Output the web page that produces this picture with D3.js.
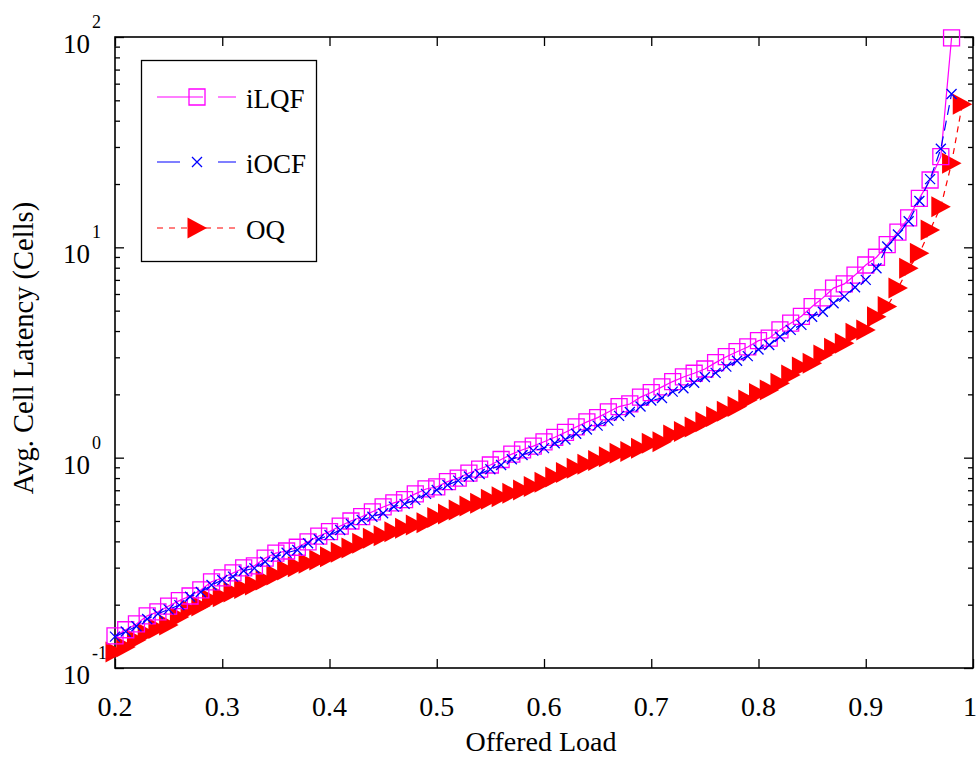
<!DOCTYPE html>
<html lang="en">
<head>
<meta charset="utf-8">
<title>Avg. Cell Latency vs Offered Load</title>
<script src="https://d3js.org/d3.v7.min.js"></script>
<style>
  body { margin: 0; background: #fff; }
  text { font-family: "Liberation Serif", "Times New Roman", serif; fill: #000; }
</style>
</head>
<body>
<script>

// offered load for every simulated point
var load = [0.20,0.21,0.22,0.23,0.24,0.25,0.26,0.27,0.28,0.29,
            0.30,0.31,0.32,0.33,0.34,0.35,0.36,0.37,0.38,0.39,
            0.40,0.41,0.42,0.43,0.44,0.45,0.46,0.47,0.48,0.49,
            0.50,0.51,0.52,0.53,0.54,0.55,0.56,0.57,0.58,0.59,
            0.60,0.61,0.62,0.63,0.64,0.65,0.66,0.67,0.68,0.69,
            0.70,0.71,0.72,0.73,0.74,0.75,0.76,0.77,0.78,0.79,
            0.80,0.81,0.82,0.83,0.84,0.85,0.86,0.87,0.88,0.89,
            0.90,0.91,0.92,0.93,0.94,0.95,0.96,0.97,0.98,0.99];

// avg. cell latency (cells)
var iLQF = [0.142,0.152,0.162,0.177,0.185,0.197,0.209,0.220,0.235,0.257,
            0.268,0.283,0.299,0.306,0.333,0.352,0.360,0.375,0.398,0.424,
            0.445,0.473,0.500,0.524,0.553,0.583,0.610,0.632,0.673,0.710,
            0.726,0.769,0.800,0.845,0.883,0.923,0.980,1.04,1.09,1.135,
            1.19,1.25,1.32,1.40,1.48,1.55,1.65,1.75,1.80,1.94,
            2.04,2.17,2.30,2.42,2.52,2.64,2.83,3.02,3.19,3.36,
            3.60,3.70,4.05,4.36,4.70,5.23,5.75,6.40,6.70,7.38,
            8.24,8.97,10.3,11.8,13.8,17.1,20.9,27.0,99.0];

var iOCF = [0.141,0.149,0.158,0.171,0.181,0.190,0.199,0.218,0.230,0.248,
            0.262,0.272,0.290,0.298,0.320,0.338,0.353,0.364,0.392,0.409,
            0.429,0.453,0.484,0.506,0.524,0.544,0.585,0.603,0.630,0.673,
            0.702,0.741,0.778,0.813,0.836,0.881,0.923,0.982,1.03,1.08,
            1.11,1.17,1.22,1.30,1.36,1.42,1.50,1.58,1.65,1.75,
            1.87,1.92,2.06,2.14,2.27,2.42,2.53,2.71,2.89,3.04,
            3.27,3.43,3.76,4.05,4.28,4.68,4.94,5.42,5.83,6.46,
            7.00,7.95,10.1,11.5,13.3,16.6,21.1,29.4,53.6];

var OQ = [0.119,0.126,0.136,0.146,0.154,0.160,0.175,0.189,0.197,0.211,
          0.218,0.230,0.239,0.248,0.262,0.277,0.292,0.303,0.315,0.326,
          0.338,0.355,0.372,0.392,0.414,0.425,0.445,0.462,0.479,0.491,
          0.520,0.540,0.564,0.589,0.607,0.634,0.652,0.677,0.702,0.730,
          0.765,0.810,0.850,0.890,0.930,0.970,1.01,1.05,1.07,1.11,
          1.17,1.19,1.28,1.33,1.40,1.48,1.57,1.66,1.75,1.88,
          2.02,2.10,2.26,2.47,2.70,2.81,3.08,3.31,3.50,3.90,
          4.05,4.68,5.23,6.40,7.95,9.38,12.1,15.6,25.1,47.9];

var xTicks = [0.2,0.3,0.4,0.5,0.6,0.7,0.8,0.9,1];
var xTickLabels = ["0.2","0.3","0.4","0.5","0.6","0.7","0.8","0.9","1"];
var yTicks = [0.1,1,10,100];
var yExponents = ["-1","0","1","2"];

var width = 978,
    height = 758;

var x = d3.scaleLinear()
    .domain([0.2, 1])
    .range([115, 973]);

var y = d3.scaleLog()
    .domain([0.1, 100])
    .range([668, 37]);

var svg = d3.select("body").append("svg")
    .attr("width", width)
    .attr("height", height);

var yMinor = y.ticks().filter(function(d) { return yTicks.indexOf(d) < 0; });

// inward ticks on all four sides
function tickStyle(g) {
  g.select(".domain").remove();
  g.selectAll(".tick line").attr("stroke", "#000").attr("stroke-width", 1.3);
  g.selectAll(".tick text").remove();
}
svg.append("g").attr("transform", "translate(0,668)")
    .call(d3.axisBottom(x).tickValues(xTicks).tickSize(-9)).call(tickStyle);
svg.append("g").attr("transform", "translate(0,37)")
    .call(d3.axisTop(x).tickValues(xTicks).tickSize(-9)).call(tickStyle);
svg.append("g").attr("transform", "translate(115,0)")
    .call(d3.axisLeft(y).tickValues(yTicks).tickSize(-9)).call(tickStyle);
svg.append("g").attr("transform", "translate(115,0)")
    .call(d3.axisLeft(y).tickValues(yMinor).tickSize(-5)).call(tickStyle);
svg.append("g").attr("transform", "translate(973,0)")
    .call(d3.axisRight(y).tickValues(yTicks).tickSize(-9)).call(tickStyle);
svg.append("g").attr("transform", "translate(973,0)")
    .call(d3.axisRight(y).tickValues(yMinor).tickSize(-5)).call(tickStyle);

// frame
svg.append("rect")
    .attr("x", x(0.2)).attr("y", y(100))
    .attr("width", x(1) - x(0.2)).attr("height", y(0.1) - y(100))
    .attr("fill", "none").attr("stroke", "#000").attr("stroke-width", 1.6);

// tick labels
svg.append("g").selectAll("text")
    .data(xTicks)
  .enter().append("text")
    .attr("x", function(d) { return d == 1 ? x(d) - 3 : x(d); })
    .attr("y", 716)
    .attr("text-anchor", "middle")
    .attr("font-size", 28)
    .text(function(d, i) { return xTickLabels[i]; });

var yl = svg.append("g").selectAll("g")
    .data(yTicks)
  .enter().append("g");
yl.append("text")
    .attr("x", 90)
    .attr("y", function(d) { return y(d) + 16; })
    .attr("text-anchor", "end")
    .attr("font-size", 27)
    .text("10");
yl.append("text")
    .attr("x", 92)
    .attr("y", function(d) { return y(d) - 9; })
    .attr("font-size", 18)
    .text(function(d, i) { return yExponents[i]; });

// axis titles
svg.append("text")
    .attr("x", 541)
    .attr("y", 751)
    .attr("text-anchor", "middle")
    .attr("font-size", 28)
    .text("Offered Load");

svg.append("text")
    .attr("transform", "translate(33,348) rotate(-90)")
    .attr("text-anchor", "middle")
    .attr("font-size", 28.5)
    .text("Avg. Cell Latency (Cells)");

// series
var line = d3.line()
    .x(function(d) { return x(d[0]); })
    .y(function(d) { return y(d[1]); });

function pairs(vals) {
  return vals.map(function(v, i) { return [load[i], v]; });
}

var series = [
  { name: "iLQF", values: pairs(iLQF), color: "#ff00ff", dash: null, legendDash: "46,15", marker: "square" },
  { name: "iOCF", values: pairs(iOCF), color: "#0000ff", dash: "10,6", legendDash: "23,38", marker: "cross" },
  { name: "OQ",   values: pairs(OQ),   color: "#ff0000", dash: "6,5", legendDash: "6,6", marker: "tri" }
];

var markerPath = {
  square: "M-8,-8H8V8H-8Z",
  cross: "M-5,-5L5,5M-5,5L5,-5",
  tri: "M-9.5,-10.5L10,0L-9.5,10.5Z"
};

function drawMarker(sel, s) {
  sel.append("path")
      .attr("d", markerPath[s.marker])
      .attr("fill", s.marker == "tri" ? s.color : "none")
      .attr("stroke", s.marker == "tri" ? "none" : s.color)
      .attr("stroke-width", 1.3);
}

// draw OQ first so the switch curves sit on top
[series[2], series[0], series[1]].forEach(function(s) {
  var g = svg.append("g").attr("class", s.name);
  g.append("path")
      .datum(s.values)
      .attr("d", line)
      .attr("fill", "none")
      .attr("stroke", s.color)
      .attr("stroke-width", 1.2)
      .attr("stroke-dasharray", s.dash);
  g.selectAll("g.pt")
      .data(s.values)
    .enter().append("g")
      .attr("class", "pt")
      .attr("transform", function(d) { return "translate(" + x(d[0]) + "," + y(d[1]) + ")"; })
      .each(function() { drawMarker(d3.select(this), s); });
});

// legend
var legend = svg.append("g").attr("class", "legend");
legend.append("rect")
    .attr("x", 141.5).attr("y", 60.5)
    .attr("width", 175).attr("height", 201)
    .attr("fill", "#fff").attr("stroke", "#000").attr("stroke-width", 1.3);

var legendY = [97, 162, 228];
series.forEach(function(s, i) {
  var row = legend.append("g").attr("transform", "translate(0," + legendY[i] + ")");
  row.append("line")
      .attr("x1", 157).attr("x2", 236)
      .attr("stroke", s.color).attr("stroke-width", 1.2)
      .attr("stroke-dasharray", s.legendDash);
  var m = row.append("g").attr("transform", "translate(197,0)");
  drawMarker(m, s);
  row.append("text")
      .attr("x", 246)
      .attr("y", 11)
      .attr("font-size", 27)
      .text(s.name);
});

</script>
</body>
</html>
